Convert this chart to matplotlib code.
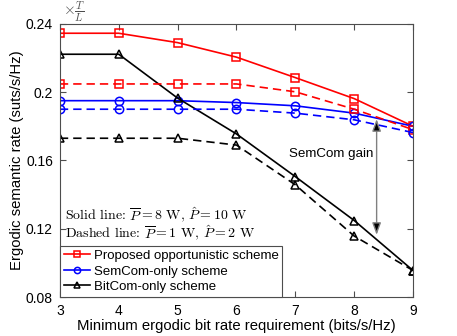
import matplotlib
matplotlib.use('Agg')
import matplotlib.pyplot as plt
import numpy as np

plt.rcParams['font.family'] = ['Liberation Sans', 'DejaVu Sans']
plt.rcParams['mathtext.fontset'] = 'cm'

# minimum ergodic bit rate requirement
x = [3, 4, 5, 6, 7, 8, 9]

# solid: Pbar = 8 W, Phat = 10 W
prop_solid = [0.2345, 0.2345, 0.229, 0.2205, 0.2085, 0.1962, 0.180]
sem_solid = [0.195, 0.195, 0.195, 0.1939, 0.192, 0.1877, 0.180]
bit_solid = [0.2222, 0.2222, 0.1965, 0.1755, 0.1505, 0.1248, 0.0955]

# dashed: Pbar = 1 W, Phat = 2 W
prop_dash = [0.2048, 0.2048, 0.2048, 0.2048, 0.2002, 0.190, 0.178]
sem_dash = [0.190, 0.190, 0.190, 0.190, 0.1877, 0.1838, 0.1763]
bit_dash = [0.173, 0.173, 0.173, 0.169, 0.1457, 0.1157, 0.0955]

labels = ['Proposed opportunistic scheme', 'SemCom-only scheme', 'BitCom-only scheme']
yticks = [0.08, 0.12, 0.16, 0.2, 0.24]
ytick_labels = ['0.08', '0.12', '0.16', '0.2', '0.24']

fig = plt.figure(figsize=(4.57, 3.36), dpi=100)
ax = fig.add_axes([0.131, 0.116, 0.773, 0.813])

kw = dict(lw=1.2, ms=6, mfc='none', mew=1.1)
ax.plot(x, prop_solid, 'rs-', label=labels[0], **kw)
ax.plot(x, sem_solid, 'bo-', label=labels[1], **kw)
ax.plot(x, bit_solid, 'k^-', label=labels[2], **kw)
ax.plot(x, prop_dash, 'rs--', dashes=(5, 3), **kw)
ax.plot(x, sem_dash, 'bo--', dashes=(5, 3), **kw)
ax.plot(x, bit_dash, 'k^--', dashes=(5, 3), **kw)

# SemCom gain arrow
ax.annotate('', xy=(8.38, 0.1842), xytext=(8.38, 0.1164),
            arrowprops=dict(arrowstyle='<|-|>,head_length=0.6,head_width=0.22',
                            fc='k', ec='#808080', lw=1.0,
                            mutation_scale=12, shrinkA=0, shrinkB=0))
ax.text(7.6, 0.164, 'SemCom gain', fontsize=9.6, ha='center', va='center')

ax.text(3.08, 0.1275, r'Solid line: $\overline{P}=8$ W, $\hat{P}=10$ W',
        fontsize=10, va='center', family='cmr10')
ax.text(3.08, 0.1172, r'Dashed line: $\overline{P}=1$ W, $\hat{P}=2$ W',
        fontsize=10, va='center', family='cmr10')

ax.set_xlim(3, 9)
ax.set_ylim(0.08, 0.24)
ax.set_yticks(yticks)
ax.set_yticklabels(ytick_labels)
ax.set_xticks(x)
ax.tick_params(direction='in', top=True, right=True, labelsize=10, length=4,
               color='#4d4d4d', pad=5)
for s in ax.spines.values():
    s.set_color('#4d4d4d')
    s.set_linewidth(0.8)

ax.set_xlabel('Minimum ergodic bit rate requirement (bits/s/Hz)', fontsize=10.7,
              labelpad=1)
ax.set_ylabel('Ergodic semantic rate (suts/s/Hz)', fontsize=10.7, labelpad=1)
ax.text(0.01, 1.0, r'$\times\frac{T}{L}$', transform=ax.transAxes, fontsize=11,
        color='#4d4d4d', ha='left', va='bottom')

leg = ax.legend(loc='lower left', fontsize=9.5, handlelength=2.0, handletextpad=0.25,
                borderaxespad=0, borderpad=0.3, labelspacing=0.25, fancybox=False,
                framealpha=1, edgecolor='#4d4d4d', markerscale=0.75)
leg.get_frame().set_linewidth(0.8)

fig.savefig('out.png', dpi=100)
